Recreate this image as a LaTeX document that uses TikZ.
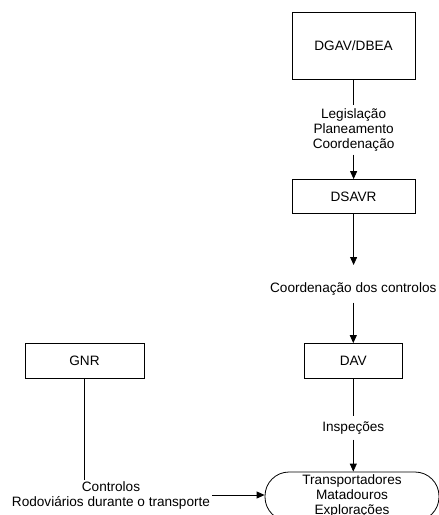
\documentclass[tikz,border=0pt]{standalone}
\usepackage{fontspec}
\setmainfont{Liberation Sans}
\usetikzlibrary{arrows.meta}
\begin{document}
\begin{tikzpicture}[x=1pt,y=-1pt,
  every node/.style={font=\fontsize{13.6}{15}\selectfont},
  box/.style={draw, line width=0.8pt, rectangle, inner sep=0pt},
  lbl/.style={align=center, inner xsep=2pt},
  stad/.style={draw, line width=0.8pt, rectangle, rounded corners=24pt, align=center, inner sep=0pt},
  conn/.style={line width=0.8pt},
  arr/.style={line width=0.8pt, -{Triangle[length=8pt,width=7pt]}}]
\useasboundingbox (0,0) rectangle (439,515);
\node[box, minimum width=123, minimum height=67] (dgav) at (353.6,45.6) {DGAV/DBEA};
\node[box, minimum width=123, minimum height=34] (dsavr) at (353.6,196.5) {DSAVR};
\node[box, minimum width=98, minimum height=35] (dav) at (353.3,361) {DAV};
\node[box, minimum width=119, minimum height=35] (gnr) at (84.5,361) {GNR};
\node[stad, minimum width=174, minimum height=49] (stad) at (352,496.5) {Transportadores\\Matadouros\\Explorações};
\node[lbl, inner ysep=3pt] (l1) at (353.6,130) {Legislação\\Planeamento\\Coordenação};
\node[lbl, inner ysep=7pt] (l2) at (353.3,289) {Coordenação dos controlos};
\node[lbl, inner ysep=5pt] (l3) at (353.3,428) {Inspeções};
\node[lbl, inner ysep=1pt] (l4) at (111,495) {Controlos\\Rodoviários durante o transporte};
\coordinate (c2) at (353.6,265);
\draw[conn] (dgav.south) -- (dgav.south |- l1.north);
\draw[arr] (dgav.south |- l1.south) -- (dsavr.north);
\draw[arr] (dsavr.south) -- (c2);
\draw[arr] (l2.south -| dav.north) -- (dav.north);
\draw[conn] (dav.south) -- (dav.south |- l3.north);
\draw[arr] (dav.south |- l3.south) -- (stad.north -| dav.south);
\draw[conn] (gnr.south) -- (gnr.south |- l4.north);
\draw[arr] (l4.east |- 0,495) -- (stad.west |- 0,495);
\end{tikzpicture}
\end{document}
